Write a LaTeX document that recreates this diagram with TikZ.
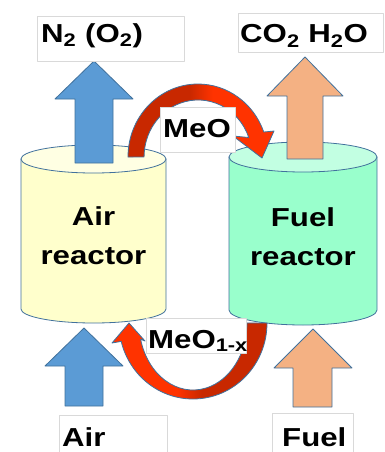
\documentclass[tikz,border=0pt]{standalone}
\usepackage{fontspec}
\setmainfont{Liberation Sans}
\usepackage{graphicx}
\definecolor{bluefill}{HTML}{5B9BD5}
\definecolor{edgeblue}{HTML}{41719C}
\definecolor{orangefill}{HTML}{F4B183}
\definecolor{airbody}{HTML}{FFFFCC}
\definecolor{airtop}{HTML}{FFFFE3}
\definecolor{fuelbody}{HTML}{99FFCC}
\definecolor{fueltop}{HTML}{C2FFE2}
\definecolor{rdark}{HTML}{C82800}
\definecolor{rbright}{HTML}{FF3300}
\definecolor{boxgray}{HTML}{D9D9D9}
\pgfdeclarehorizontalshading{redA}{100bp}{color(0bp)=(rdark); color(25bp)=(rdark); color(46bp)=(rdark); color(54bp)=(rbright); color(75bp)=(rbright); color(100bp)=(rbright)}
\pgfdeclarehorizontalshading{redB}{100bp}{color(0bp)=(rbright); color(25bp)=(rbright); color(46bp)=(rbright); color(54bp)=(rdark); color(75bp)=(rdark); color(100bp)=(rdark)}
\newcommand\wx[1]{\scalebox{1.2}[1]{#1}}
\begin{document}
\begin{tikzpicture}[x=1pt,y=-1pt,line join=round,
  edge/.style={draw=edgeblue,line width=0.8pt},
  lbl/.style={font=\fontsize{26}{30}\selectfont\bfseries,inner sep=0pt},
  labelbox/.style={draw=boxgray,line width=0.6pt,fill=white}]
\useasboundingbox (0,0) rectangle (385,452);
% cylinders
\path[edge,fill=airbody] (21,159) -- (21,309) arc[start angle=180,end angle=0,x radius=72.5,y radius=14] -- (166,159) -- cycle;
\path[edge,fill=airtop] (93.5,159) ellipse[x radius=72.5,y radius=14];
\path[edge,fill=fuelbody] (229,157) -- (229,310) arc[start angle=180,end angle=0,x radius=74,y radius=15] -- (377,157) -- cycle;
\path[edge,fill=fueltop] (303,157) ellipse[x radius=74,y radius=15];
% bottom curved arrow (MeO1-x)
\path[edge,shading=redB] (267,323) arc[start angle=0,end angle=166,x radius=74,y radius=76]
  -- (112,343) -- (129,323) -- (145,341) -- (140.6,339.2)
  arc[start angle=166,end angle=0,x radius=54,y radius=67] -- cycle;
% straight block arrows
\path[edge,fill=bluefill] (94,61) -- (133,99) -- (113,99) -- (113,163) -- (75,163) -- (75,99) -- (55,99) -- cycle;
\path[edge,fill=orangefill] (305,57) -- (343,96) -- (323,96) -- (323,159) -- (287,159) -- (287,96) -- (267,96) -- cycle;
\path[edge,fill=bluefill] (84,328) -- (123,366) -- (103,366) -- (103,406) -- (65,406) -- (65,366) -- (45,366) -- cycle;
\path[edge,fill=orangefill] (313,329) -- (352,368) -- (332,368) -- (332,407) -- (293,407) -- (293,368) -- (274,368) -- cycle;
% top curved arrow (MeO)
\path[edge,shading=redA] (128,157) arc[start angle=180,end angle=340,x radius=70,y radius=73]
  -- (274,131) -- (262,158) -- (233,136) -- (248.8,137.5)
  arc[start angle=340,end angle=180,x radius=54,y radius=57] -- cycle;
% label boxes
\path[labelbox] (37,16) rectangle (184,61);
\path[labelbox] (238,13) rectangle (383,52);
\path[labelbox] (160,107) rectangle (235,152);
\path[labelbox] (146,318) rectangle (246,353);
\path[labelbox] (59,415) rectangle (167,460);
\path[labelbox] (272,413) rectangle (353,460);
% texts
\node[lbl,anchor=base west] (n2) at (41,42) {\wx{N\textsubscript{2} (O\textsubscript{2})}};
\node[lbl,anchor=base west] (co2) at (240,43) {\wx{CO\textsubscript{2} H\textsubscript{2}O}};
\node[lbl,anchor=base west] (meo) at (163,137) {\wx{MeO}};
\node[lbl,anchor=base west] (meox) at (148,348) {\wx{MeO\textsubscript{1-x}}};
\node[lbl,anchor=base west] (air) at (62,446) {\wx{Air}};
\node[lbl,anchor=base west] (fuel) at (282,446) {\wx{Fuel}};
\node[lbl,anchor=base] (ar1) at (93.5,225) {\wx{Air}};
\node[lbl,anchor=base] (ar2) at (93.5,264) {\wx{reactor}};
\node[lbl,anchor=base] (fr1) at (303,226) {\wx{Fuel}};
\node[lbl,anchor=base] (fr2) at (303,265) {\wx{reactor}};
\end{tikzpicture}
\end{document}
